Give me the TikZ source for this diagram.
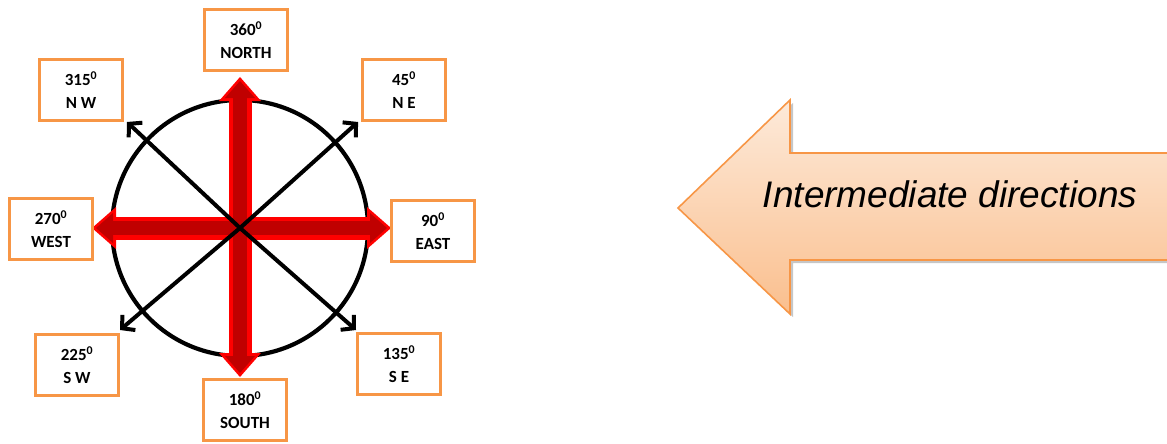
\documentclass[tikz,border=0pt]{standalone}
\usepackage{fontspec}
\setmainfont{Carlito}
\newfontfamily\arrowfont{Liberation Sans}
\usetikzlibrary{arrows.meta,positioning,calc}
\definecolor{boxorange}{RGB}{247,150,70}
\definecolor{darkred}{RGB}{192,0,0}
\definecolor{peachtop}{RGB}{253,234,218}
\definecolor{peachbot}{RGB}{250,191,142}

\begin{document}
\begin{tikzpicture}[x=1pt,y=-1pt,
    dirbox/.style={draw=boxorange, line width=3.2pt, fill=white, inner sep=0pt,
      minimum width=83pt, minimum height=61pt, align=center,
      font=\bfseries\fontsize{17}{23}\selectfont},
    ptr/.style={line width=4pt, -{Straight Barb[length=9pt,width=20pt,line width=4pt]}},
    redout/.style={red, line width=23pt,
      {Triangle[length=24pt,width=42pt,line width=0pt]}-{Triangle[length=24pt,width=42pt,line width=0pt]}},
    redin/.style={darkred, line width=14pt, shorten <=4pt, shorten >=4pt,
      {Triangle[length=17pt,width=30pt,line width=0pt]}-{Triangle[length=17pt,width=30pt,line width=0pt]}}]
    \useasboundingbox (0,0) rectangle (1167,444);
    % compass
    \coordinate (c) at (240,228);
    \draw[line width=4.2pt] (c) circle[radius=128pt];
    % red main directions
    \coordinate (nT) at (240,77);
    \coordinate (sT) at (240,377);
    \coordinate (wT) at (92,228);
    \coordinate (eT) at (391,228);
    \draw[redout] (nT) -- (sT);
    \draw[redout] (wT) -- (eT);
    \draw[redin] (nT) -- (sT);
    \draw[redin] (wT) -- (eT);
    % black intermediate directions
    \coordinate (nwT) at (127,122);
    \coordinate (neT) at (358,122);
    \coordinate (swT) at (120,330);
    \coordinate (seT) at (356,330);
    \foreach \t in {nwT,neT,swT,seT}
        \draw[ptr] (c) -- (\t);
    % direction boxes
    \node[dirbox] (north) at (246,40) {360\textsuperscript{0}\\NORTH};
    \node[dirbox] (ne) at (404,90) {45\textsuperscript{0}\\N E};
    \node[dirbox] (nw) at (81,90) {315\textsuperscript{0}\\N W};
    \node[dirbox] (west) at (51,229) {270\textsuperscript{0}\\WEST};
    \node[dirbox] (east) at (433,231) {90\textsuperscript{0}\\EAST};
    \node[dirbox] (sw) at (77,365) {225\textsuperscript{0}\\S W};
    \node[dirbox] (se) at (399,364) {135\textsuperscript{0}\\S E};
    \node[dirbox] (south) at (245,410) {180\textsuperscript{0}\\SOUTH};
    % big label arrow
    \begin{scope}
        \clip (0,0) rectangle (1167,444);
        \fill[gray!45, shift={(3,3)}] (678,208) -- (790,100) -- (790,153) -- (1180,153)
            -- (1180,260) -- (790,260) -- (790,314) -- cycle;
        \draw[boxorange, line width=1.6pt, top color=peachtop, bottom color=peachbot]
            (678,208) -- (790,100) -- (790,153) -- (1180,153)
            -- (1180,260) -- (790,260) -- (790,314) -- cycle;
    \end{scope}
    \node[anchor=base, font=\arrowfont\itshape\fontsize{37}{40}\selectfont] (lbl) at (950,207) {Intermediate directions};
\end{tikzpicture}
\end{document}
